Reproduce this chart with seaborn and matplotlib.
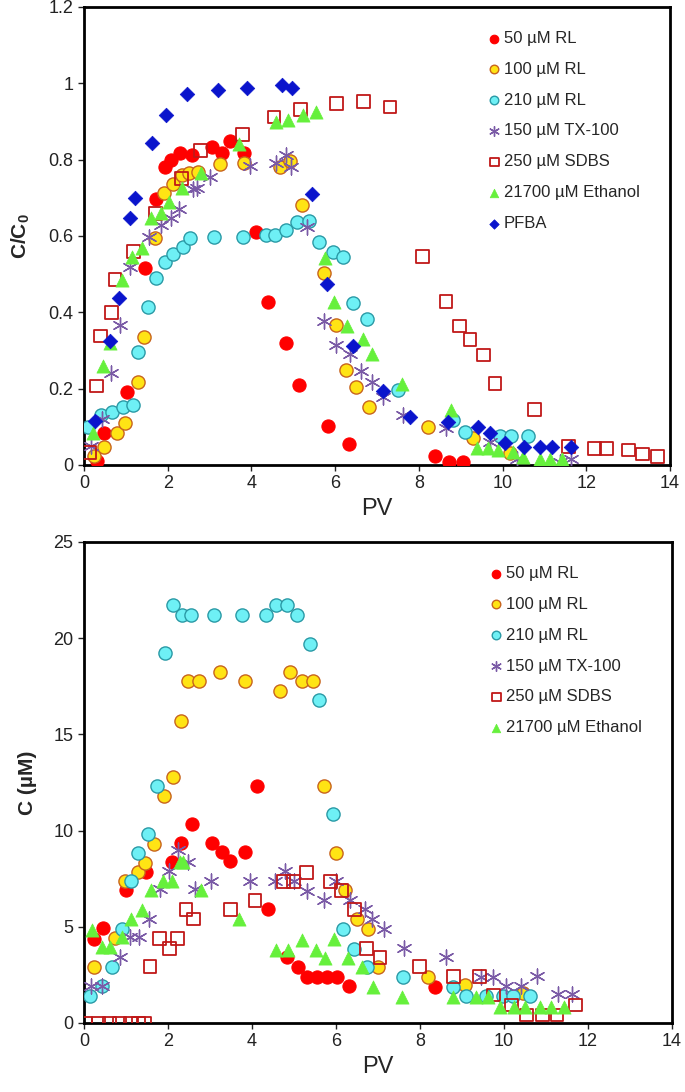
import matplotlib
matplotlib.use("Agg")
import matplotlib.pyplot as plt
from matplotlib.ticker import FuncFormatter, MultipleLocator
import seaborn as sns


# ---- data: top panel (C/C0 vs PV) ----
rl50_pv_top = [0.30, 0.48, 1.02, 1.46, 1.72, 1.94, 2.09, 2.29, 2.57, 3.05, 3.29, 3.49, 3.83, 4.11,
               4.39, 4.83, 5.14, 5.84, 6.34, 8.38, 8.73, 9.05]
rl50_c_top = [0.01, 0.084, 0.19, 0.515, 0.696, 0.78, 0.80, 0.818, 0.812, 0.834, 0.818, 0.849, 0.817, 0.61,
              0.428, 0.319, 0.21, 0.103, 0.055, 0.024, 0.009, 0.009]

rl100_pv_top = [0.24, 0.49, 0.78, 0.99, 1.30, 1.44, 1.70, 1.92, 2.12, 2.33, 2.52, 2.73, 3.25, 3.83,
                4.68, 4.92, 5.22, 5.74, 6.01, 6.27, 6.51, 6.81, 8.21, 9.30, 10.18]
rl100_c_top = [0.024, 0.046, 0.085, 0.109, 0.218, 0.336, 0.594, 0.712, 0.735, 0.76, 0.764, 0.768, 0.788, 0.79,
               0.78, 0.797, 0.681, 0.502, 0.367, 0.249, 0.205, 0.153, 0.099, 0.07, 0.031]

rl210_pv_top = [0.10, 0.40, 0.68, 0.94, 1.16, 1.30, 1.52, 1.73, 1.94, 2.13, 2.37, 2.53, 3.11, 3.79,
                4.35, 4.56, 4.83, 5.10, 5.38, 5.62, 5.94, 6.18, 6.42, 6.75, 7.51, 8.82, 9.10, 9.94,
                10.21, 10.61]
rl210_c_top = [0.10, 0.131, 0.14, 0.153, 0.157, 0.297, 0.415, 0.489, 0.533, 0.553, 0.572, 0.594, 0.597, 0.597,
               0.603, 0.603, 0.616, 0.637, 0.639, 0.585, 0.557, 0.544, 0.424, 0.382, 0.196, 0.118, 0.087, 0.076,
               0.076, 0.076]

tx_pv_top = [0.17, 0.44, 0.64, 0.86, 1.10, 1.55, 1.84, 2.07, 2.28, 2.61, 2.69, 3.02, 3.97, 4.59, 4.83,
             4.94, 5.32, 5.74, 6.01, 6.35, 6.62, 6.87, 7.15, 7.63, 8.65, 9.70, 10.34, 11.37, 11.63]
tx_c_top = [0.05, 0.12, 0.242, 0.367, 0.52, 0.597, 0.629, 0.646, 0.67, 0.722, 0.725, 0.754, 0.784, 0.792, 0.812,
            0.782, 0.624, 0.376, 0.314, 0.29, 0.245, 0.218, 0.179, 0.131, 0.096, 0.061, 0.015, 0.009, 0.015]

sdbs_pv_top = [0.13, 0.29, 0.40, 0.66, 0.74, 1.18, 1.70, 2.33, 2.79, 3.79, 4.54, 5.18, 6.04, 6.67, 7.31,
               8.09, 8.65, 8.97, 9.22, 9.54, 9.82, 10.77, 11.57, 12.19, 12.49, 13.0, 13.35, 13.70]
sdbs_c_top = [0.032, 0.207, 0.338, 0.399, 0.486, 0.559, 0.659, 0.751, 0.824, 0.865, 0.912, 0.932, 0.947, 0.952,
              0.938, 0.546, 0.428, 0.364, 0.329, 0.288, 0.214, 0.146, 0.048, 0.044, 0.044, 0.039, 0.029, 0.022]

eth_pv_top = [0.21, 0.46, 0.62, 0.90, 1.14, 1.38, 1.61, 1.85, 2.04, 2.33, 2.79, 3.70, 4.59, 4.88, 5.24,
              5.54, 5.76, 5.98, 6.29, 6.66, 6.89, 7.60, 8.78, 9.38, 9.66, 9.90, 10.26, 10.50, 10.89,
              11.13, 11.41]
eth_c_top = [0.083, 0.259, 0.32, 0.485, 0.546, 0.568, 0.646, 0.659, 0.69, 0.725, 0.764, 0.841, 0.899, 0.904,
             0.917, 0.926, 0.542, 0.428, 0.364, 0.329, 0.29, 0.211, 0.144, 0.044, 0.044, 0.039, 0.035, 0.022,
             0.015, 0.015, 0.015]

pfba_pv = [0.26, 0.61, 0.84, 1.10, 1.23, 1.62, 1.96, 2.47, 3.21, 3.90, 4.74, 4.96, 5.45, 5.80, 6.42,
           7.15, 7.79, 8.69, 9.42, 9.70, 10.07, 10.52, 10.89, 11.19, 11.63]
pfba_c = [0.115, 0.326, 0.437, 0.646, 0.699, 0.843, 0.917, 0.971, 0.982, 0.989, 0.996, 0.989, 0.709, 0.474,
          0.312, 0.195, 0.127, 0.112, 0.10, 0.083, 0.058, 0.046, 0.046, 0.046, 0.046]

# ---- data: bottom panel (C in uM vs PV) ----
rl50_pv_bot = [0.24, 0.46, 1.0, 1.48, 2.09, 2.31, 2.56, 3.04, 3.28, 3.48, 3.83, 4.11, 4.37, 4.83, 5.10,
               5.32, 5.54, 5.79, 6.02, 6.31, 8.36]
rl50_c_bot = [4.39, 4.95, 6.90, 7.85, 8.37, 9.36, 10.33, 9.36, 8.89, 8.41, 8.89, 12.32, 5.90, 3.41, 2.92,
              2.40, 2.40, 2.40, 2.40, 1.94, 1.88]

rl100_pv_bot = [0.24, 0.74, 0.98, 1.29, 1.45, 1.67, 1.91, 2.11, 2.31, 2.48, 2.74, 3.24, 3.83, 4.67, 4.90,
                5.20, 5.46, 5.72, 5.99, 6.21, 6.51, 6.77, 7.0, 8.18, 9.07, 10.46]
rl100_c_bot = [2.92, 4.43, 7.37, 7.85, 8.34, 9.32, 11.78, 12.78, 15.72, 17.75, 17.75, 18.23, 17.75, 17.23,
               18.23, 17.75, 17.75, 12.32, 8.86, 6.90, 5.40, 4.91, 2.92, 2.40, 1.97, 1.54]

rl210_pv_bot = [0.14, 0.42, 0.66, 0.90, 1.12, 1.29, 1.52, 1.73, 1.93, 2.13, 2.34, 2.54, 3.10, 3.77, 4.33,
                4.56, 4.83, 5.08, 5.38, 5.60, 5.92, 6.17, 6.43, 6.73, 7.59, 8.79, 9.10, 9.57, 9.98, 10.21,
                10.62]
rl210_c_bot = [1.42, 1.94, 2.92, 4.88, 7.37, 8.84, 9.84, 12.32, 19.22, 21.7, 21.2, 21.2, 21.2, 21.2, 21.2,
               21.7, 21.7, 21.2, 19.7, 16.8, 10.85, 4.88, 3.87, 2.92, 2.37, 1.88, 1.42, 1.42, 1.42, 1.42, 1.42]

tx_pv_bot = [0.16, 0.42, 0.86, 1.10, 1.32, 1.55, 1.81, 2.03, 2.23, 2.47, 2.64, 3.02, 3.95, 4.55, 4.79,
             5.0, 5.30, 5.72, 6.0, 6.33, 6.69, 6.85, 7.14, 7.63, 8.63, 9.45, 9.75, 10.05, 10.40, 10.78,
             11.29, 11.61]
tx_c_bot = [1.94, 1.94, 3.44, 4.48, 4.48, 5.43, 6.94, 7.90, 8.98, 8.37, 6.94, 7.39, 7.39, 7.39, 7.90, 7.39,
            6.87, 6.38, 7.39, 6.38, 5.95, 5.43, 4.91, 3.91, 3.44, 2.40, 2.40, 1.92, 1.92, 2.44, 1.49, 1.49]

sdbs_pv_bot = [0.05, 0.35, 0.6, 0.85, 1.1, 1.3, 1.45, 1.57, 1.79, 2.03, 2.22, 2.43, 2.60, 3.48, 4.07,
               4.75, 4.98, 5.29, 5.86, 6.13, 6.45, 6.73, 7.05, 7.98, 8.79, 9.41, 9.75, 10.18, 10.54,
               10.92, 11.26, 11.71]
sdbs_c_bot = [0, 0, 0, 0, 0, 0, 0, 2.92, 4.39, 3.87, 4.39, 5.90, 5.40, 5.90, 6.38, 7.37, 7.37, 7.82, 7.37,
              6.90, 5.90, 3.87, 3.39, 2.92, 2.40, 2.40, 1.45, 0.93, 0.41, 0.41, 0.41, 0.93]

eth_pv_bot = [0.18, 0.42, 0.62, 0.90, 1.12, 1.37, 1.60, 1.87, 2.09, 2.29, 2.36, 2.78, 3.69, 4.56, 4.86,
              5.18, 5.52, 5.75, 5.96, 6.28, 6.63, 6.89, 7.58, 8.78, 9.33, 9.63, 9.90, 10.24, 10.50,
              10.86, 11.11, 11.43]
eth_c_bot = [4.83, 3.96, 3.96, 4.48, 5.40, 5.86, 6.90, 7.37, 7.37, 8.37, 8.37, 6.90, 5.40, 3.79, 3.79,
             4.31, 3.79, 3.36, 4.34, 3.36, 2.92, 1.88, 1.37, 1.37, 1.37, 1.37, 0.85, 0.85, 0.85, 0.85,
             0.85, 0.85]

labels = ["50 µM RL", "100 µM RL", "210 µM RL", "150 µM TX-100", "250 µM SDBS",
          "21700 µM Ethanol", "PFBA"]

# marker style per series: (marker, face, edge, size, linewidth)
styles = {
    "50 µM RL": ("o", "#ff0000", "#ff0000", 90, 0.8),
    "100 µM RL": ("o", "#ffe414", "#c8641e", 90, 1.0),
    "210 µM RL": ("o", "#6ef0f5", "#2a9aa6", 90, 1.0),
    "150 µM TX-100": ((6, 2, 0), "#7a5aa6", "#7a5aa6", 115, 1.0),
    "250 µM SDBS": ("s", "none", "#c01818", 85, 1.3),
    "21700 µM Ethanol": ("^", "#66f03c", "#66f03c", 90, 0.5),
    "PFBA": ("D", "#0a14cc", "#0a14cc", 55, 0.5),
}

sns.set_style("white")
plt.rcParams["font.family"] = ["Liberation Sans", "DejaVu Sans"]
plt.rcParams["mathtext.fontset"] = "custom"
plt.rcParams["mathtext.rm"] = "Liberation Sans"
plt.rcParams["mathtext.bf"] = "Liberation Sans:bold"


def draw_series(ax, pv, c, label):
    marker, fc, ec, s, lw = styles[label]
    if fc == "none":
        sns.scatterplot(x=pv, y=c, ax=ax, marker=marker, s=s, facecolors="none",
                        edgecolors=ec, linewidth=lw, label=label, zorder=3)
    elif isinstance(marker, tuple):
        sns.scatterplot(x=pv, y=c, ax=ax, marker=marker, s=s, color=ec,
                        linewidth=lw, label=label, zorder=3)
    else:
        sns.scatterplot(x=pv, y=c, ax=ax, marker=marker, s=s, color=fc,
                        edgecolor=ec, linewidth=lw, label=label, zorder=3)


def style_axes(ax, ymax, ystep, ylabel):
    ax.set_xlim(0, 14)
    ax.set_ylim(0, ymax)
    ax.xaxis.set_major_locator(MultipleLocator(2))
    ax.yaxis.set_major_locator(MultipleLocator(ystep))
    ax.yaxis.set_major_formatter(FuncFormatter(lambda v, p: f"{v:g}"))
    for sp in ax.spines.values():
        sp.set_visible(True)
        sp.set_color("black")
        sp.set_linewidth(2.0)
    ax.tick_params(axis="both", direction="out", length=4, width=1, labelsize=13,
                   colors="#222222", left=True, bottom=True)
    ax.set_xlabel("PV", fontsize=17, labelpad=4)
    ax.set_ylabel(ylabel, fontsize=15, fontweight="bold", labelpad=12)
    leg = ax.legend(loc="upper right", frameon=False, fontsize=12, markerscale=0.65,
                    handletextpad=0.05, labelspacing=0.95, handlelength=1.0,
                    borderaxespad=0.9, bbox_to_anchor=(0.985, 0.995))
    return leg


fig = plt.figure(figsize=(6.85, 10.92), dpi=100)
ax1 = fig.add_axes([0.1226, 0.5742, 0.8555, 0.4194])
ax2 = fig.add_axes([0.1226, 0.0632, 0.8584, 0.4405])

top = [(rl50_pv_top, rl50_c_top), (rl100_pv_top, rl100_c_top), (rl210_pv_top, rl210_c_top),
       (tx_pv_top, tx_c_top), (sdbs_pv_top, sdbs_c_top), (eth_pv_top, eth_c_top), (pfba_pv, pfba_c)]
for (pv, c), lab in zip(top, labels):
    draw_series(ax1, pv, c, lab)
style_axes(ax1, 1.2, 0.2, r"$\mathbf{C/C_0}$")

bottom = [(rl50_pv_bot, rl50_c_bot), (rl100_pv_bot, rl100_c_bot), (rl210_pv_bot, rl210_c_bot),
          (tx_pv_bot, tx_c_bot), (sdbs_pv_bot, sdbs_c_bot), (eth_pv_bot, eth_c_bot)]
for (pv, c), lab in zip(bottom, labels[:6]):
    draw_series(ax2, pv, c, lab)
style_axes(ax2, 25, 5, "C (µM)")

fig.savefig("out.png", dpi=100)
